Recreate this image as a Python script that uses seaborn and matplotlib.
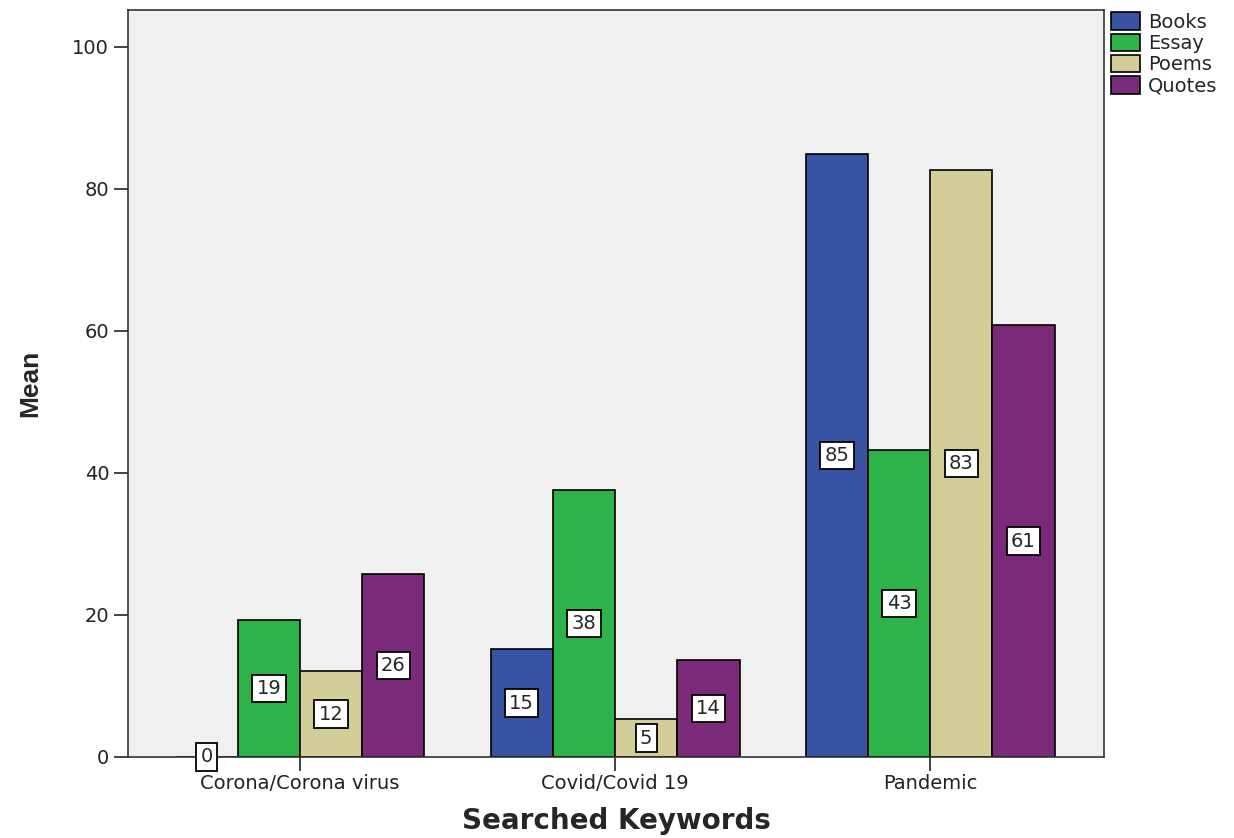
import numpy as np
import pandas as pd
import matplotlib
matplotlib.use("Agg")
import matplotlib.pyplot as plt
import seaborn as sns

# Data
keywords = ["Corona/Corona virus", "Covid/Covid 19", "Pandemic"]
types = ["Books", "Essay", "Poems", "Quotes"]
books = [0, 15.2, 84.9]
essay = [19.3, 37.6, 43.2]
poems = [12.1, 5.3, 82.7]
quotes = [25.8, 13.7, 60.8]
colors = ["#3953a4", "#2db34a", "#d3ce97", "#7b2a7a"]

df = pd.DataFrame({
    "Searched Keywords": keywords * 4,
    "Type": np.repeat(types, 3),
    "Mean": books + essay + poems + quotes,
})

sns.set_style("ticks")
plt.rcParams["font.family"] = ["DejaVu Sans"]

fig = plt.figure(figsize=(12.34, 8.38), dpi=100)
ax = fig.add_axes([0.1037, 0.0967, 0.7910, 0.8913])
ax.set_facecolor("#f0f0f0")

sns.barplot(data=df, x="Searched Keywords", y="Mean", hue="Type",
            order=keywords, hue_order=types, palette=colors, saturation=1,
            width=0.79, gap=0, edgecolor="black", linewidth=1.2,
            errorbar=None, ax=ax)

# value boxes at mid-height of each bar
for cont in ax.containers:
    for bar in cont:
        h = bar.get_height()
        ax.text(bar.get_x() + bar.get_width() / 2, h / 2, f"{h:.0f}",
                ha="center", va="center", fontsize=14,
                bbox=dict(facecolor="white", edgecolor="black", linewidth=1.3,
                          boxstyle="square,pad=0.22"))

ax.set_ylim(0, 105.2)
ax.set_xlim(-0.546, 2.552)
ax.set_yticks([0, 20, 40, 60, 80, 100])
ax.tick_params(axis="both", direction="out", length=10, width=1.2,
               labelsize=14, colors="#222222")
ax.tick_params(axis="x", pad=2)
for s in ax.spines.values():
    s.set_visible(True)
    s.set_linewidth(1.2)
    s.set_color("#333333")

ax.set_ylabel("Mean", fontsize=19, fontweight="bold", labelpad=22,
              family="Liberation Sans")
ax.set_xlabel("Searched Keywords", fontsize=20, fontweight="bold", labelpad=10)

ax.legend(loc="upper left", bbox_to_anchor=(0.997, 1.01), frameon=False,
          fontsize=14, handlelength=1.5, handleheight=1.0,
          handletextpad=0.4, labelspacing=0.1, borderaxespad=0.1)

fig.savefig("out.png", dpi=100)
